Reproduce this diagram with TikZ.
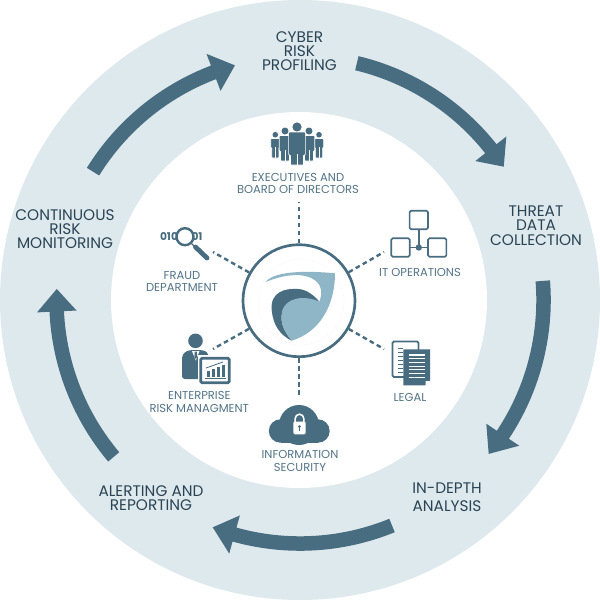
\documentclass[tikz,border=0pt]{standalone}
\usepackage{fontspec}
\setmainfont{Poppins}
\usepackage{xcolor}
\definecolor{ringbg}{HTML}{DEE9EE}
\definecolor{slate}{HTML}{486D80}
\definecolor{pale}{HTML}{8FB6C7}
\definecolor{outertxt}{HTML}{2B4454}
\definecolor{innertxt}{HTML}{537488}
\tikzset{
  outerlabel/.style={align=center,text=outertxt,inner sep=0pt,font=\fontsize{10.9}{10.1}\selectfont},
  innerlabel/.style={align=center,text=innertxt,inner sep=0pt,font=\fontsize{8.2}{9}\selectfont},
  spoke/.style={slate,line width=1.7pt,dash pattern=on 3.3pt off 2.4pt},
  iconline/.style={slate,line width=1.2pt,rounded corners=1pt},
  hubring/.style={circle,draw=slate,line width=1.9pt,fill=white,minimum size=2.8cm,inner sep=0pt}
}
% one arrow of the ring: tail, neck and tip angle
\newcommand{\ringarrow}[3]{%
  \fill[slate] (#1:236.3) arc[start angle=#1,end angle=#2,radius=236.3]
    -- (#2:223.7) -- (#3:243.5) -- (#2:263.3) -- (#2:250.8)
    arc[start angle=#2,end angle=#1,radius=250.8] -- cycle;}
\begin{document}
\begin{tikzpicture}[x=.025cm,y=-.025cm]
\useasboundingbox (0,0) rectangle (600,600);

% rings
\fill[ringbg] (300,300) circle (300);
\fill[white] (299,300) circle (188);

% arrows
\begin{scope}[shift={(300,300)},y=.025cm]
\ringarrow{148.2}{110.8}{105.5}
\ringarrow{76.5}{38.4}{33.2}
\ringarrow{4.5}{-33.6}{-39.2}
\ringarrow{-67.8}{-105.6}{-111}
\ringarrow{220.1}{182.7}{177.4}
\end{scope}

% hub
\node[hubring] at (299,300.7) (hub) {};
\draw[ringbg,densely dotted,line width=.3pt] (301,302) circle (43);
\fill[slate] (271.7,310) .. controls (270,292) and (285,288) .. (298,289)
  .. controls (306,289) and (315,296) .. (319.3,301.7)
  .. controls (305,297) and (285,300) .. (282,312)
  .. controls (280,325) and (285,332) .. (291.7,340.7)
  .. controls (280,335) and (273,325) .. (271.7,310) -- cycle;
\fill[pale] (265.7,282) .. controls (270,275) and (290,269) .. (335,273.3)
  .. controls (335,305) and (320,332) .. (291.7,340.7)
  .. controls (285,332) and (280,325) .. (282,312)
  .. controls (285,297) and (305,295) .. (319.3,301.7)
  .. controls (323,292) and (321,285) .. (316,281)
  .. controls (305,272) and (285,274) .. (265.7,282) -- cycle;

% spokes
\coordinate (top) at (299,202);
\coordinate (bot) at (299,398);
\coordinate (ul) at (213,252);
\coordinate (ur) at (384,252);
\coordinate (ll) at (213,349);
\coordinate (lr) at (384,349);
\draw[spoke] (hub) -- (top);
\draw[spoke] (hub) -- (bot);
\draw[spoke] (hub) -- (ul);
\draw[spoke] (hub) -- (ur);
\draw[spoke] (hub) -- (ll);
\draw[spoke] (hub) -- (lr);

% people
\foreach \x/\y/\r/\w/\a/\b in {275.3/134.7/2.8/4.6/138.5/158,319/134.7/2.8/4.6/138.5/158,
    285/131/3.5/5.8/135.5/161,309/131/3.5/5.8/135.5/161,297/127/4.6/8.4/132/165}{
  \fill[slate] (\x,\y) circle (\r);
  \filldraw[slate,draw=white,line width=.45pt,rounded corners=.6pt]
    (\x-\w,\a) -- (\x+\w,\a) -- (\x+\w,\b-10) -- (\x+.78*\w,\b-10) -- (\x+.78*\w,\b)
    -- (\x-.78*\w,\b) -- (\x-.78*\w,\b-10) -- (\x-\w,\b-10) -- cycle;
  \draw[white,line width=.25pt] (\x,\b-11) -- (\x,\b);
}

% magnifier
\node[font=\bfseries\fontsize{7.6}{8}\selectfont,text=slate,inner sep=0pt] at (169,236.8) (bitsa) {010};
\node[font=\bfseries\fontsize{7.6}{8}\selectfont,text=slate,inner sep=0pt] at (197,236.8) (bitsb) {01};
\filldraw[fill=white,draw=slate,line width=1.7pt] (185,236.7) circle (8.5);
\draw[slate,line width=1pt] (191,243) -- (195,247);
\draw[slate,line width=3.4pt,line cap=round] (195.5,247) -- (207,258);

% network
\foreach \x/\y in {418.8/220,400.5/247.5,437.2/247.5}
  \draw[iconline] (\x-9.2,\y-9.2) rectangle (\x+9.2,\y+9.2);
\draw[slate,line width=1.1pt] (418.8,229.2) -- (418.8,247.5);
\draw[slate,line width=1.1pt] (409.7,247.5) -- (428,247.5);
\fill[slate] (418.8,247.5) circle (3.2);

% person with chart
\fill[slate] (195.5,340.8) circle (7.3);
\fill[slate,rounded corners=2pt] (182,379) -- (182,360) .. controls (182.5,353) and (187,351) .. (191,350)
  -- (201,350) .. controls (205,351) and (208,352) .. (209,358) -- (209,379) -- cycle;
\fill[white] (192,351) -- (199.5,351) -- (195.8,360.5) -- cycle;
\fill[slate] (194.7,351.7) -- (196.9,351.7) -- (197.2,357) -- (195.8,359) -- (194.4,357) -- cycle;
\fill[white] (197.5,355) rectangle (232,386);
\filldraw[fill=white,draw=slate,line width=2pt,rounded corners=1pt] (200.8,358.2) rectangle (229.2,382.8);
\fill[slate] (206.5,370.5) rectangle (209.5,377);
\fill[slate] (211.5,369) rectangle (214.5,377);
\fill[slate] (216.5,367) rectangle (219.5,377);
\fill[slate] (221.5,365) rectangle (224.5,377);
\draw[slate,line width=.6pt] (205,378.5) -- (226,378.5);
\draw[slate,line width=.6pt] (206,368) -- (223,362);

% documents
\draw[iconline] (392.5,341.5) rectangle (418.5,377);
\foreach \y in {348,352,356,360,364,368,372}
  \draw[slate,line width=.5pt] (398,\y) -- (402.5,\y);
\fill[slate] (403.3,349.3) -- (430,349.3) -- (430,380.5) -- (425,385.3) -- (403.3,385.3) -- cycle;
\foreach \y in {355,358.7,362.4,366.1,369.8,373.5,377.2}
  \draw[white,line width=.8pt] (408.5,\y) -- (425,\y);
\fill[white] (425.5,385) -- (429.7,381) -- (425.5,381) -- cycle;

% cloud with lock
\fill[slate] (299,425) circle (20);
\fill[slate] (280.5,431) circle (11.7);
\fill[slate] (318,431) circle (11.7);
\fill[slate] (280.5,425) rectangle (318,442.7);
\draw[white,line width=1.1pt] (295.2,423) -- (295.2,418.5) arc[start angle=180,end angle=360,radius=4.3] -- (303.8,423);
\fill[white,rounded corners=1pt] (293.3,421.5) rectangle (305.7,434.3);
\fill[slate] (299.5,426.5) circle (1.5);
\fill[slate] (298.9,426.5) rectangle (300.1,431);

% outer labels
\node[outerlabel] at (299.5,51) (cyber) {CYBER\\RISK\\PROFILING};
\node[outerlabel] at (536,225.5) (threat) {THREAT\\DATA\\COLLECTION};
\node[outerlabel,font=\fontsize{10.9}{12.6}\selectfont] at (447,497.5) (depth) {IN-DEPTH\\ANALYSIS};
\node[outerlabel] at (151,498.5) (alert) {ALERTING AND\\REPORTING};
\node[outerlabel] at (65,229) (monitor) {CONTINUOUS\\RISK\\MONITORING};

% inner labels
\node[innerlabel] at (298,183.5) (execs) {EXECUTIVES AND\\BOARD OF DIRECTORS};
\node[innerlabel] at (420,272) (itops) {IT OPERATIONS};
\node[innerlabel] at (182,281.5) (fraud) {FRAUD\\DEPARTMENT};
\node[innerlabel] at (199.3,402) (risk) {ENTERPRISE\\RISK MANAGMENT};
\node[innerlabel] at (410,397) (legal) {LEGAL};
\node[innerlabel] at (300,461) (infosec) {INFORMATION\\SECURITY};
\end{tikzpicture}
\end{document}
